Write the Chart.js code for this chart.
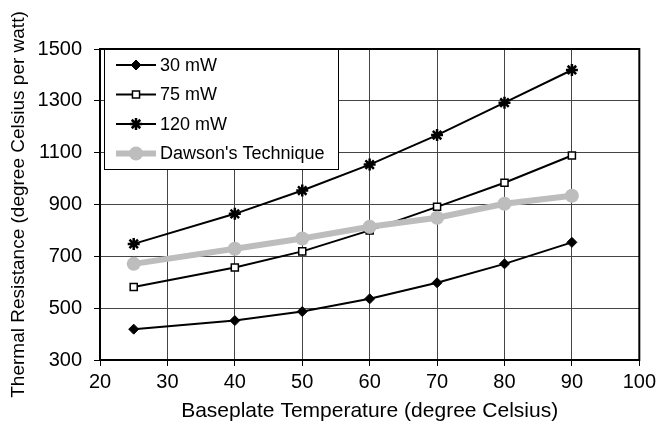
<!DOCTYPE html>
<html>
<head>
<meta charset="utf-8">
<script src="https://cdn.jsdelivr.net/npm/chart.js@4"></script>
<style>
  body { margin: 0; background: #fff; }
  #wrap { width: 660px; height: 432px; }
</style>
</head>
<body>
<div id="wrap"><canvas id="thermalChart" width="660" height="432"></canvas></div>
<script>
// データ
const temps = [25, 40, 50, 60, 70, 80, 90];
const mw30 = [419, 452, 487, 536, 598, 671, 754];
const mw75 = [582, 657, 719, 800, 891, 984, 1089];
const mw120 = [748, 864, 954, 1054, 1168, 1293, 1419];
const dawson = [671, 729, 769, 814, 849, 903, 934];
const seriesNames = ["30 mW", "75 mW", "120 mW", "Dawson's Technique"];

const xTicks = [20, 30, 40, 50, 60, 70, 80, 90, 100];
const yTicks = [300, 500, 700, 900, 1100, 1300, 1500];

const FONT = "'Liberation Sans', Arial, sans-serif";

function toPoints(values) {
  return temps.map((t, i) => ({ x: t, y: values[i] }));
}

// 凡例とプロット枠を描くプラグイン
const boxLegend = {
  id: "boxLegend",
  afterDatasetsDraw(chart) {
    const ctx = chart.ctx;
    const area = chart.chartArea;
    ctx.save();
    // plot frame
    ctx.strokeStyle = "#000";
    ctx.lineWidth = 2;
    ctx.strokeRect(area.left, area.top, area.right - area.left, area.bottom - area.top);

    // legend box
    const bx = area.left + 4, by = area.top, bw = 234, bh = 120;
    ctx.fillStyle = "#fff";
    ctx.fillRect(bx, by, bw, bh);
    ctx.lineWidth = 1;
    ctx.strokeStyle = "#000";
    ctx.strokeRect(bx + 0.5, by + 0.5, bw, bh);

    ctx.font = "18px " + FONT;
    ctx.textBaseline = "middle";
    chart.data.datasets.forEach((ds, i) => {
      const y = by + 16 + i * 29.5;
      const x0 = bx + 12, x1 = bx + 52;
      ctx.strokeStyle = ds.borderColor;
      ctx.lineWidth = ds.borderWidth;
      ctx.beginPath();
      ctx.moveTo(x0, y);
      ctx.lineTo(x1, y);
      ctx.stroke();
      // marker
      ctx.save();
      ctx.fillStyle = ds.pointBackgroundColor;
      ctx.strokeStyle = ds.pointBorderColor;
      ctx.lineWidth = ds.pointBorderWidth;
      Chart.helpers.drawPoint(ctx, {
        pointStyle: ds.pointStyle,
        radius: ds.pointRadius,
        borderWidth: ds.pointBorderWidth,
        rotation: 0
      }, (x0 + x1) / 2, y);
      ctx.restore();
      ctx.fillStyle = "#000";
      ctx.fillText(ds.label, bx + 56, y + 1);
    });
    ctx.restore();
  },
};

const datasets = [
  {
    label: seriesNames[0],
    data: toPoints(mw30),
    borderColor: "#000",
    backgroundColor: "#000",
    borderWidth: 2,
    pointStyle: "rectRot",
    pointRadius: 5,
    pointBorderWidth: 1,
    pointBackgroundColor: "#000",
    pointBorderColor: "#000",
    order: 3,
  },
  {
    label: seriesNames[1],
    data: toPoints(mw75),
    borderColor: "#000",
    backgroundColor: "#fff",
    borderWidth: 2,
    pointStyle: "rect",
    pointRadius: 5,
    pointBorderWidth: 1.5,
    pointBackgroundColor: "#fff",
    pointBorderColor: "#000",
    order: 2,
  },
  {
    label: seriesNames[2],
    data: toPoints(mw120),
    borderColor: "#000",
    backgroundColor: "#000",
    borderWidth: 2,
    pointStyle: "star",
    pointRadius: 6,
    pointBorderWidth: 2.5,
    pointBackgroundColor: "#000",
    pointBorderColor: "#000",
    order: 1,
  },
  {
    label: seriesNames[3],
    data: toPoints(dawson),
    borderColor: "#bdbdbd",
    backgroundColor: "#bdbdbd",
    borderWidth: 6,
    pointStyle: "circle",
    pointRadius: 7,
    pointBorderWidth: 0,
    pointBackgroundColor: "#bdbdbd",
    pointBorderColor: "#bdbdbd",
    order: 0,
  },
];

const chart = new Chart(document.getElementById("thermalChart"), {
  type: "line",
  data: { datasets },
  options: {
    responsive: false,
    animation: false,
    devicePixelRatio: 1,
    layout: { padding: { left: 7, right: 18, top: 49, bottom: 8 } },
    plugins: { legend: { display: false }, tooltip: { enabled: false } },
    scales: {
      x: {
        type: "linear",
        min: 20,
        max: 100,
        afterBuildTicks: (axis) => { axis.ticks = xTicks.map((v) => ({ value: v })); },
        afterFit: (axis) => { axis.height = 64; },
        ticks: {
          color: "#000",
          font: { family: FONT, size: 20 },
          padding: 4,
          maxRotation: 0,
          callback: (v) => String(v),
        },
        grid: { color: "#444", lineWidth: 1, tickLength: 6, tickColor: "#000" },
        border: { color: "#000", width: 2 },
        title: {
          display: true,
          text: "Baseplate Temperature (degree Celsius)",
          color: "#000",
          font: { family: FONT, size: 21 },
          padding: { top: 0, bottom: 0 },
        },
      },
      y: {
        min: 300,
        max: 1500,
        afterBuildTicks: (axis) => { axis.ticks = yTicks.map((v) => ({ value: v })); },
        afterFit: (axis) => { axis.width = 93; },
        ticks: {
          color: "#000",
          font: { family: FONT, size: 20 },
          padding: 12,
          callback: (v) => String(v),
        },
        grid: { color: "#444", lineWidth: 1, tickLength: 6, tickColor: "#000" },
        border: { color: "#000", width: 2 },
        title: {
          display: true,
          text: "Thermal Resistance (degree Celsius per watt)",
          color: "#000",
          font: { family: FONT, size: 19 },
          padding: { top: 0, bottom: 0 },
        },
      },
    },
  },
  plugins: [boxLegend],
});
</script>
</body>
</html>
